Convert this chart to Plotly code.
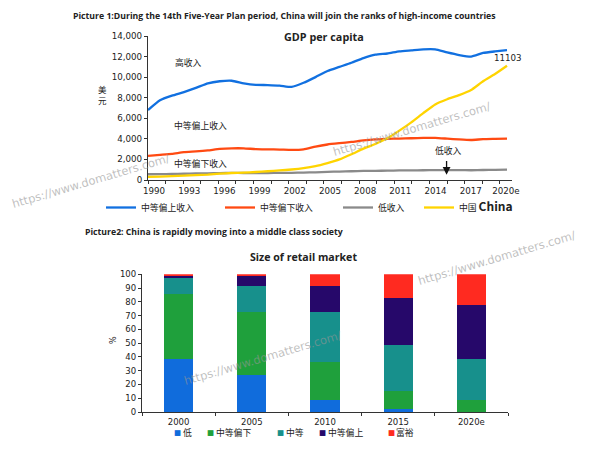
import plotly.graph_objects as go

years = list(range(1990, 2021))
upper_middle = [6800,7750,8200,8550,8950,9400,9600,9650,9400,9250,9230,9180,9050,9450,10000,10600,11000,11400,11850,12180,12300,12500,12600,12700,12700,12400,12150,12000,12350,12500,12620]
lower_middle = [2350,2450,2550,2700,2780,2880,3020,3080,3080,3000,2980,2960,2920,2980,3250,3450,3580,3700,3850,3950,4000,4030,4060,4090,4100,4020,3940,3890,3970,4000,4030]
low_income = [560,570,590,610,630,650,670,690,680,670,680,690,700,720,750,790,820,850,880,890,910,930,940,950,960,960,960,950,970,990,1000]
china = [300,330,370,420,470,530,620,680,720,780,850,930,1020,1150,1350,1650,2000,2500,3050,3500,4050,4800,5600,6500,7350,7850,8250,8750,9600,10300,11103]
year_ticks = [1990,1993,1996,1999,2002,2005,2008,2011,2014,2017,2020]
year_labels = ["1990","1993","1996","1999","2002","2005","2008","2011","2014","2017","2020e"]

retail_years = ["2000","2005","2010","2015","2020e"]
low_share = [38.5,27,8.7,2.4,0.3]
lower_mid_share = [47,45.5,27.8,12.9,8.2]
mid_share = [11.5,19,36,33.7,29.8]
upper_mid_share = [2,7.3,19,34,39.7]
rich_share = [1,1.2,8.5,17,22]
share_names = ["低", "中等偏下", "中等", "中等偏上", "富裕"]
share_colors = ["#106CDC", "#1FA03C", "#17908C", "#26086A", "#FF2A20"]

# The page has an 8 px body margin, so the figure is 592x442 and all layout
# positions below are given in window pixels.
W, H, M = 592, 442, 8
CJK = "Noto Sans CJK SC, DejaVu Sans"
TXT = "#222222"
AX = "#333333"
def px(x): return (x - M) / W
def py(y): return 1 - (y - M) / H

X0, X1, ppy = 148, 512, (507 - 148) / 30
fig = go.Figure()
line_specs = [
    ("中等偏上收入", upper_middle, "#1170E0", "legend", 141),
    ("中等偏下收入", lower_middle, "#FF4A12", "legend2", 260),
    ("低收入", low_income, "#8A8A8A", "legend3", 378),
    ("中国 <span style=\"font-size:12px\"><b>China</b></span>", china, "#FFD400", "legend4", 459),
]
for name, vals, col, leg, _ in line_specs:
    fig.add_trace(go.Scatter(x=years, y=vals, mode="lines", name=name, legend=leg,
                             line=dict(color=col, width=2.3, shape="spline", smoothing=0.5),
                             hoverinfo="skip"))

for name, vals, col in zip(share_names, [low_share, lower_mid_share, mid_share, upper_mid_share, rich_share], share_colors):
    fig.add_trace(go.Bar(x=retail_years, y=vals, name=name, marker=dict(color=col, line_width=0),
                         xaxis="x2", yaxis="y2", showlegend=False, width=0.4, hoverinfo="skip"))

label_pos = [1990 + (6 + (y - 1990) * 11.73) / ppy for y in year_ticks]
layout_legends = {}
for name, vals, col, leg, text_x in line_specs:
    layout_legends[leg] = dict(x=px(text_x - 40), y=py(193), xanchor="left", yanchor="top",
                               font=dict(family=CJK, size=8.8, color=TXT), itemwidth=30,
                               bgcolor="rgba(0,0,0,0)")
fig.update_layout(
    width=W, height=H, margin=dict(l=0, r=0, t=0, b=0, autoexpand=False), autosize=False,
    paper_bgcolor="white", plot_bgcolor="white", barmode="stack",
    font=dict(family="DejaVu Sans", size=8.7, color=TXT),
    xaxis=dict(domain=[px(X0), px(X1)], range=[1990, 1990 + (X1 - X0) / ppy], tickvals=label_pos,
               ticktext=year_labels, ticks="", showgrid=False, zeroline=False, showline=True,
               linecolor=AX, linewidth=1.2, anchor="y", tickfont=dict(size=8.7), ticklabelstandoff=2,
               minor=dict(tick0=1990, dtick=1.47, ticks="outside", ticklen=3, tickcolor=AX, showgrid=False)),
    yaxis=dict(domain=[py(180), py(36)], range=[0, 14000], tickvals=list(range(0, 14001, 2000)),
               tickformat=",d", ticks="outside", ticklen=3, tickcolor=AX, showgrid=False, zeroline=False,
               showline=True, linecolor=AX, linewidth=1.2, tickfont=dict(size=8.7), anchor="x"),
    xaxis2=dict(domain=[px(142), px(508)], type="category", categoryorder="array", categoryarray=retail_years,
                range=[-0.5, 4.5], tickson="boundaries", ticks="outside", ticklen=3, tickcolor=AX, showgrid=False,
                showline=True, linecolor=AX, linewidth=1.2, anchor="y2", tickfont=dict(size=8.5), ticklabelstandoff=2),
    yaxis2=dict(domain=[py(412), py(274.3)], range=[0, 100], dtick=10, ticks="outside", ticklen=3, tickcolor=AX,
                showgrid=False, zeroline=False, showline=True, linecolor=AX, linewidth=1.2,
                tickfont=dict(size=8.5), anchor="x2"),
    **layout_legends,
)

def note(text, x, y, size=9.5, family=CJK, color=TXT, angle=0, xanchor="center"):
    fig.add_annotation(text=text, x=px(x), y=py(y), xref="paper", yref="paper", showarrow=False,
                       xanchor=xanchor, yanchor="middle", textangle=angle, borderpad=0, borderwidth=0,
                       font=dict(size=size, family=family, color=color))

note("<b>Picture 1:During the 14th Five-Year Plan period, China will join the ranks of high-income countries</b>", 284, 16, size=8.7, family="Open Sans")
note("<b>Picture2: China is rapidly moving into a middle class society</b>", 214, 232, size=8.7, family="Open Sans")
note("<b>GDP per capita</b>", 323.5, 36, size=10.8, family="Open Sans")
note("<b>Size of retail market</b>", 303.5, 257, size=10.6, family="Open Sans")
note("高收入", 188, 62, size=8.8)
note("中等偏上收入", 201, 126, size=8.8)
note("中等偏下收入", 201, 163, size=8.8)
note("低收入", 448, 151, size=8.8)
note("11103", 508, 58, size=8.7, family="DejaVu Sans")
note("美<br>元", 102, 95, size=8.5)
note("%", 113, 340, size=8, family="DejaVu Sans", angle=-90)
fig.add_annotation(x=2014.95, y=500, ax=2014.95, ay=2000, xref="x", yref="y", axref="x", ayref="y",
                   text="", showarrow=True, arrowhead=2, arrowsize=1.2, arrowwidth=1.3, arrowcolor="#111111")

for name, col, sx, tx in zip(share_names, share_colors, [177.5, 210.5, 280.5, 322.5, 391.5], [183, 216, 286, 328, 396]):
    note("■", sx, 432.5, size=7.5, family="DejaVu Sans", color=col)
    note(name, tx, 432.5, size=8.8, xanchor="left")

for cx, cy in [(91, 181), (412, 129), (263, 358), (497, 258)]:
    note("https://www.domatters.com/", cx, cy, size=11.5, family="DejaVu Sans", color="rgba(150,150,150,0.6)", angle=-16.5)

fig.write_html("out.html")
